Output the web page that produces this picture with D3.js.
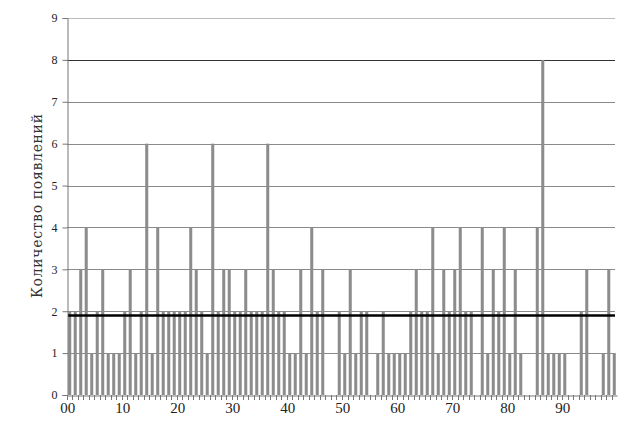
<!DOCTYPE html>
<html><head><meta charset="utf-8">
<script src="https://cdn.jsdelivr.net/npm/d3@7"></script>
<style>body{margin:0;background:#fff}svg{display:block}</style>
</head><body><svg id="c" width="628" height="426"></svg>
<script>
const categories = d3.range(100).map(i => String(i).padStart(2, "0"));
const counts = [
 2,2,3,4,1,2,3,1,1,1,
 2,3,1,2,6,1,4,2,2,2,
 2,2,4,3,2,1,6,2,3,3,
 2,2,3,2,2,2,6,3,2,2,
 1,1,3,1,4,2,3,0,0,2,
 1,3,1,2,2,0,1,2,1,1,
 1,1,2,3,2,2,4,1,3,2,
 3,4,2,2,0,4,1,3,2,4,
 1,3,1,0,0,4,8,1,1,1,
 1,0,0,2,3,0,0,1,3,1];
const referenceLine = [1.9];
const yTicks = [0,1,2,3,4,5,6,7,8,9];
const xTickLabels = ["00","10","20","30","40","50","60","70","80","90"];
const yTitle = "Количество появлений";

const svg = d3.select("#c");
const L = 67, R = 617, T = 18, B = 395;
const x = d3.scaleBand().domain(categories).range([L, R]).paddingInner(0.45).paddingOuter(0.22);
const y = d3.scaleLinear().domain([0, 9]).range([B, T]);
const font = "'Liberation Serif','DejaVu Serif',serif";

// gridlines
svg.append("g").selectAll("line").data(yTicks.filter(d => d > 0)).join("line")
  .attr("x1", L).attr("x2", 615).attr("y1", d => Math.round(y(d)) + 0.5).attr("y2", d => Math.round(y(d)) + 0.5)
  .attr("stroke", d => d === 8 ? "#333" : (d === 9 ? "#bbb" : "#8a8a8a")).attr("stroke-width", 1);

// bars
svg.append("g").selectAll("rect").data(counts).join("rect")
  .attr("x", (d, i) => x(categories[i]))
  .attr("width", x.bandwidth())
  .attr("y", d => y(d))
  .attr("height", d => B - y(d))
  .attr("fill", "#8c8c8c");

// y axis
const ya = d3.axisLeft(y).tickValues(yTicks).tickSize(5).tickPadding(5);
const gy = svg.append("g").attr("transform", `translate(${L + 0.5},0)`).call(ya);
gy.select(".domain").attr("stroke", "#777");
gy.selectAll(".tick line").attr("stroke", "#777");
gy.selectAll("text").attr("font-family", font).attr("font-size", 12).attr("fill", "#222");

// x axis
const xa = d3.axisBottom(x).tickSize(0).tickFormat(d => xTickLabels.includes(d) ? d : "");
const gx = svg.append("g").attr("transform", `translate(0,${B + 0.5})`).call(xa);
gx.select(".domain").attr("stroke", "#777");
gx.selectAll("text").attr("font-family", font).attr("font-size", 15).attr("fill", "#222")
  .attr("dy", "0.95em").attr("dx", -2);
// minor ticks at category boundaries
const step = x.step();
svg.append("g").selectAll("line").data(categories).join("line")
  .attr("x1", d => Math.round(x(d) - (step - x.bandwidth()) / 2) + 0.5)
  .attr("x2", d => Math.round(x(d) - (step - x.bandwidth()) / 2) + 0.5)
  .attr("y1", B).attr("y2", B + 5).attr("stroke", "#777");

// reference line
svg.append("g").selectAll("line").data(referenceLine).join("line")
  .attr("x1", x(categories[0])).attr("x2", 615)
  .attr("y1", d => y(d)).attr("y2", d => y(d))
  .attr("stroke", "#000").attr("stroke-width", 2.5);

// y title
svg.append("text").attr("transform", `translate(42,206) rotate(-90)`)
  .attr("text-anchor", "middle").attr("font-family", "'DejaVu Serif',serif").attr("font-size", 14).attr("fill", "#333")
  .attr("textLength", 184).attr("lengthAdjust", "spacing")
  .text(yTitle);
</script></body></html>
